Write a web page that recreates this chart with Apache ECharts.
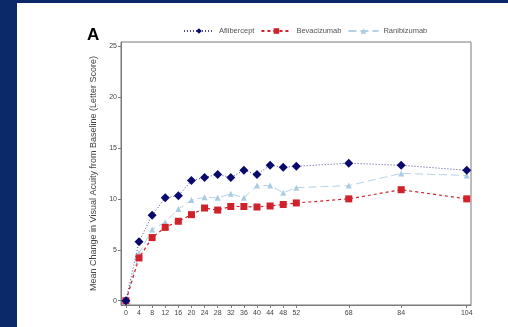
<!DOCTYPE html>
<html>
<head>
<meta charset="utf-8">
<script src="https://cdn.jsdelivr.net/npm/echarts@6/dist/echarts.min.js"></script>
<style>
  html, body { margin: 0; padding: 0; background: #0b2868; }
  #chart { position: absolute; left: 17px; top: 3px; width: 491px; height: 324px; background: #fff; }
</style>
</head>
<body>
<div id="chart"></div>
<script>
// weeks since baseline
const weeks = [0, 4, 8, 12, 16, 20, 24, 28, 32, 36, 40, 44, 48, 52, 68, 84, 104];
const xTicks = [0, 4, 8, 12, 16, 20, 24, 28, 32, 36, 40, 44, 48, 52, 68, 84, 104];
const yTicks = [0, 5, 10, 15, 20, 25];

const aflibercept = [0, 5.8, 8.4, 10.1, 10.3, 11.8, 12.1, 12.4, 12.1, 12.8, 12.4, 13.3, 13.1, 13.2, 13.5, 13.3, 12.8];
const bevacizumab = [0, 4.2, 6.2, 7.2, 7.8, 8.45, 9.1, 8.9, 9.25, 9.25, 9.2, 9.3, 9.45, 9.6, 10.0, 10.9, 10.0];
const ranibizumab = [0, 4.65, 7.0, 7.7, 9.0, 9.9, 10.15, 10.1, 10.5, 10.1, 11.3, 11.3, 10.6, 11.1, 11.3, 12.5, 12.3];

const pairs = vals => weeks.map((w, i) => [w, vals[i]]);

const chart = echarts.init(document.getElementById('chart'));
const axisGrey = '#7a7a7a';
const labelGrey = '#444';

chart.setOption({
  animation: false,
  textStyle: { fontFamily: 'Liberation Sans, Arial, sans-serif' },
  title: {
    text: 'A',
    left: 65, top: 19,
    textStyle: { fontSize: 17, fontWeight: 'bold', color: '#000' }
  },
  legend: {
    left: 161, top: 19,
    itemWidth: 30, itemHeight: 7, itemGap: 6,
    textStyle: { fontSize: 7.5, color: '#555' },
    data: ['Aflibercept', 'Bevacizumab', 'Ranibizumab']
  },
  grid: {
    left: 104, top: 39, right: 37, bottom: 22,
    show: true, borderColor: axisGrey, borderWidth: 1
  },
  xAxis: {
    type: 'value', min: -1.5, max: 105.3,
    axisLine: { show: true, onZero: false, lineStyle: { color: axisGrey } },
    axisTick: { show: true, customValues: xTicks, length: 3, lineStyle: { color: axisGrey } },
    axisLabel: { customValues: xTicks, fontSize: 7, color: labelGrey, margin: 5 },
    splitLine: { show: false }
  },
  yAxis: {
    type: 'value', min: -0.42, max: 25.4,
    name: 'Mean Change in Visual Acuity from Baseline (Letter Score)',
    nameLocation: 'middle', nameGap: 23,
    nameTextStyle: { fontSize: 9, color: '#444' },
    axisLine: { show: true, onZero: false, lineStyle: { color: axisGrey } },
    axisTick: { show: true, customValues: yTicks, length: 3, lineStyle: { color: axisGrey } },
    axisLabel: { customValues: yTicks, fontSize: 7, color: labelGrey, margin: 4 },
    splitLine: { show: false }
  },
  series: [
    {
      name: 'Aflibercept', type: 'line', data: pairs(aflibercept), z: 4,
      symbol: 'diamond', symbolSize: 9,
      itemStyle: { color: '#0a0a6e' },
      lineStyle: { color: '#4a4a9a', width: 1, type: [1, 2] }
    },
    {
      name: 'Bevacizumab', type: 'line', data: pairs(bevacizumab), z: 3,
      symbol: 'rect', symbolSize: 7,
      itemStyle: { color: '#d0222b' },
      lineStyle: { color: '#d0222b', width: 1.2, type: [3, 3] }
    },
    {
      name: 'Ranibizumab', type: 'line', data: pairs(ranibizumab), z: 2,
      symbol: 'triangle', symbolSize: 6,
      itemStyle: { color: '#a9cce3' },
      lineStyle: { color: '#b4d2e6', width: 1, type: [8, 4] }
    }
  ]
});
</script>
</body>
</html>
